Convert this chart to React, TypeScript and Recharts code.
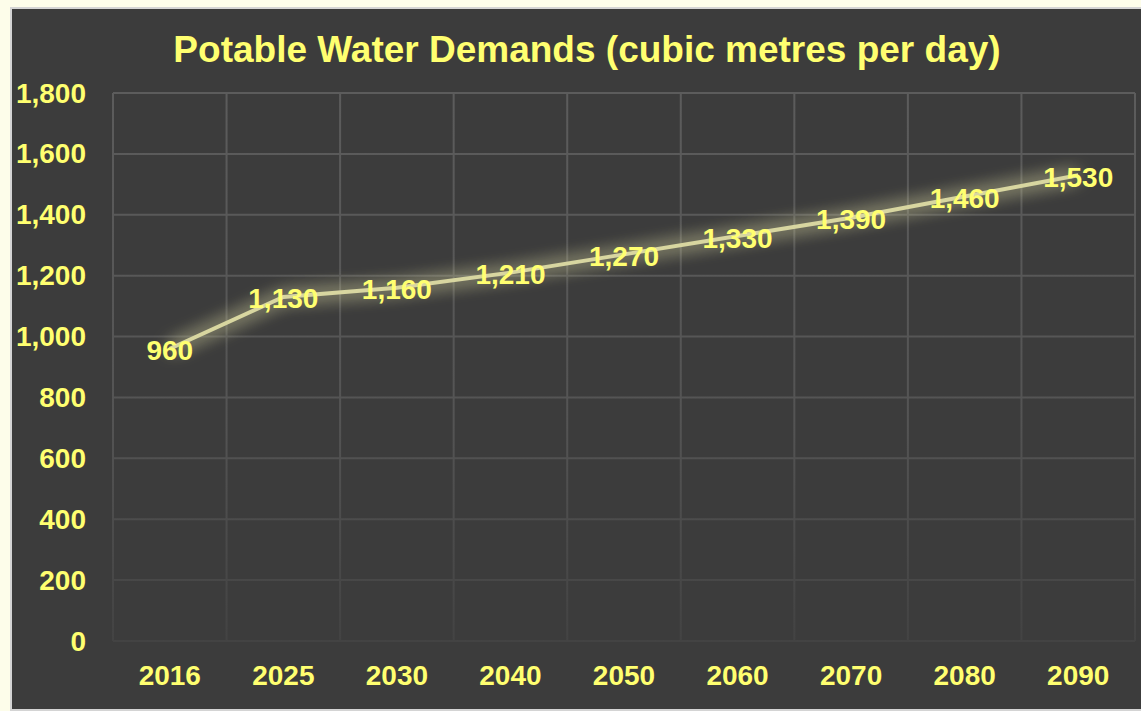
import React from "react";
import { LineChart, Line, XAxis, YAxis, CartesianGrid } from "recharts";

const years = ["2016", "2025", "2030", "2040", "2050", "2060", "2070", "2080", "2090"];
const demand = [960, 1130, 1160, 1210, 1270, 1330, 1390, 1460, 1530];
const yTicks = [0, 200, 400, 600, 800, 1000, 1200, 1400, 1600, 1800];

const data = years.map((year, i) => ({ year, demand: demand[i] }));

const YELLOW = "#ffff70";
const FONT = "'Liberation Sans', Arial, sans-serif";
const PLOT_W = 1022;
const BAND = PLOT_W / years.length;

const fmt = (v: number) => v.toLocaleString("en-US");

function YTick(props: any) {
  const { y, payload } = props;
  return (
    <text x={74} y={y} textAnchor="end" dominantBaseline="central" fill={YELLOW}
      fontFamily={FONT} fontWeight="bold" fontSize={28}>
      {fmt(payload.value)}
    </text>
  );
}

function XTick(props: any) {
  const { x, y, payload } = props;
  return (
    <text x={x} y={y + 26} textAnchor="middle" dominantBaseline="central" fill={YELLOW}
      fontFamily={FONT} fontWeight="bold" fontSize={28}>
      {payload.value}
    </text>
  );
}

function PointLabel(props: any) {
  const { x, y, value } = props;
  return (
    <text x={x} y={y + 2} textAnchor="middle" dominantBaseline="central" fill={YELLOW}
      fontFamily={FONT} fontWeight="bold" fontSize={28}>
      {fmt(value)}
    </text>
  );
}

// grid lines sit on the category band edges, not on the points
const bandEdges = ({ offset }: any) =>
  Array.from({ length: years.length + 1 }, (_, i) => offset.left + (i * offset.width) / years.length);

export default function App() {
  return (
    <div style={{ position: "absolute", left: 0, top: 0, width: 1141, height: 711, background: "#fdfdea", overflow: "hidden" }}>
      <div style={{ position: "absolute", left: 10, top: 7, width: 1135, height: 700, background: "#3c3c3c", border: "2px solid #d4d4d4" }}>
        <div style={{ position: "absolute", left: 0, width: 1150, top: 19, textAlign: "center", color: YELLOW,
          fontFamily: FONT, fontWeight: "bold", fontSize: 37, lineHeight: "44px" }}>
          Potable Water Demands (cubic metres per day)
        </div>
        <LineChart width={1131} height={698} data={data} margin={{ top: 84, right: 8, bottom: 36, left: 0 }}>
          <defs>
            <linearGradient id="gridFade" x1="0" y1="84" x2="0" y2="632" gradientUnits="userSpaceOnUse">
              <stop offset="0%" stopColor="#5c5c5c" />
              <stop offset="60%" stopColor="#545454" />
              <stop offset="100%" stopColor="#434343" />
            </linearGradient>
            <filter id="glow" x="-20%" y="-60%" width="140%" height="220%">
              <feGaussianBlur in="SourceGraphic" stdDeviation="9" result="blur" />
              <feMerge>
                <feMergeNode in="blur" />
                <feMergeNode in="blur" />
                <feMergeNode in="SourceGraphic" />
              </feMerge>
            </filter>
          </defs>
          <CartesianGrid stroke="url(#gridFade)" strokeWidth={2} verticalCoordinatesGenerator={bandEdges} />
          <XAxis dataKey="year" axisLine={false} tickLine={false} tick={<XTick />}
            padding={{ left: BAND / 2, right: BAND / 2 }} />
          <YAxis width={101} domain={[0, 1800]} ticks={yTicks} axisLine={false} tickLine={false} tick={<YTick />} />
          <Line type="linear" dataKey="demand" stroke="#d8d6a0" strokeWidth={4} dot={false}
            style={{ filter: "url(#glow)" }} label={<PointLabel />} isAnimationActive={false} />
        </LineChart>
      </div>
    </div>
  );
}
